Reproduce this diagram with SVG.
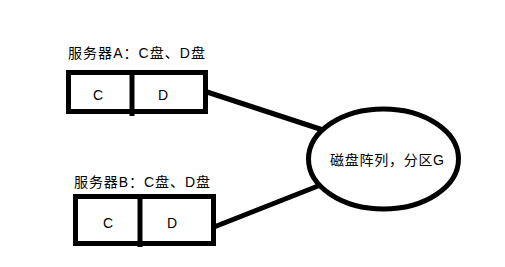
<svg xmlns="http://www.w3.org/2000/svg" width="505" height="267" viewBox="0 0 505 267">
<style>
.s{fill:none;stroke:#000;stroke-width:5}
.t{font-family:"Liberation Sans","Noto Sans CJK SC",sans-serif;font-size:14px;fill:#000}
.c{text-anchor:middle}
</style>
<rect width="505" height="267" fill="#fff"/>
<g id="connectors">
<line class="s" x1="207" y1="92" x2="323" y2="130"/>
<line class="s" x1="214" y1="227" x2="318" y2="186"/>
</g>
<g id="serverA">
<text class="t" x="68" y="58" textLength="137" lengthAdjust="spacing">服务器A：C盘、D盘</text>
<rect class="s" x="68.5" y="72.5" width="137" height="39"/>
<line class="s" x1="132" y1="72" x2="132" y2="116"/>
<text class="t c" x="98" y="100">C</text>
<text class="t c" x="163" y="100">D</text>
</g>
<g id="serverB">
<text class="t" x="74" y="187" textLength="136" lengthAdjust="spacing">服务器B：C盘、D盘</text>
<rect class="s" x="75.5" y="196.5" width="138" height="47"/>
<line class="s" x1="140" y1="197" x2="140" y2="247"/>
<text class="t c" x="108" y="228">C</text>
<text class="t c" x="172" y="228">D</text>
</g>
<g id="diskArray">
<ellipse class="s" cx="383.5" cy="159" rx="75" ry="50"/>
<text class="t" x="330" y="165" textLength="114" lengthAdjust="spacing">磁盘阵列，分区G</text>
</g>
</svg>
